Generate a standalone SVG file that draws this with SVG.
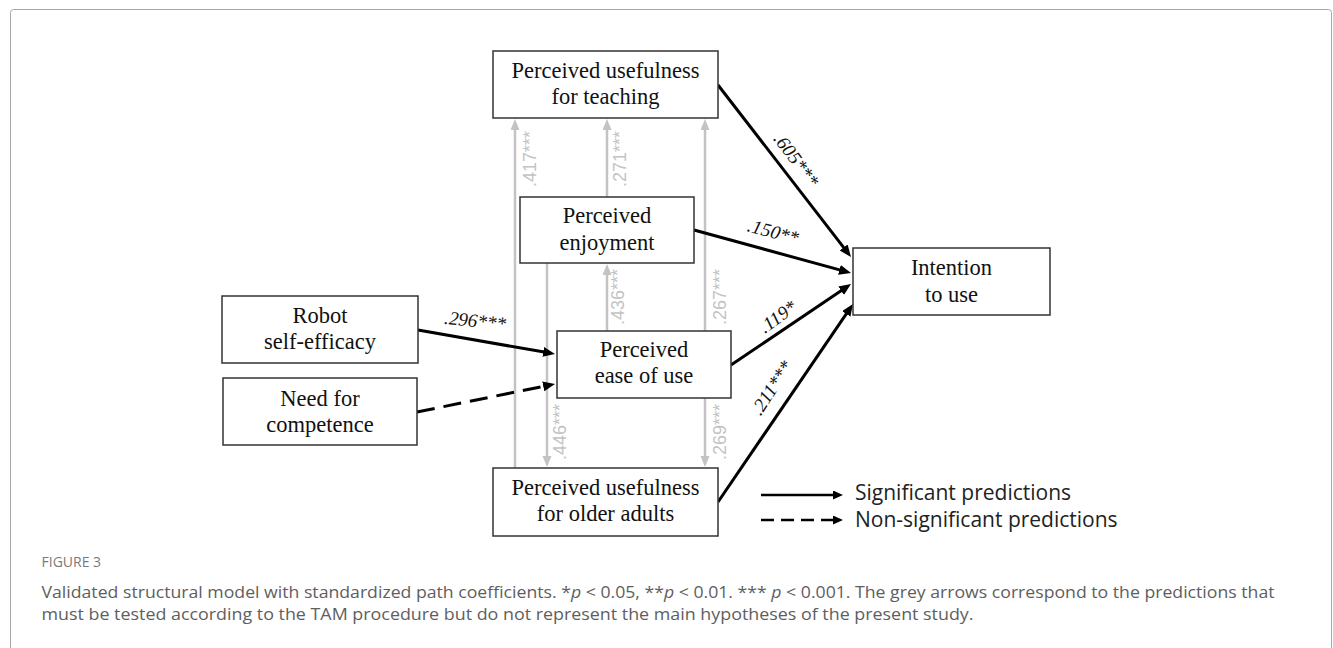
<svg xmlns="http://www.w3.org/2000/svg" width="1333" height="648" viewBox="0 0 1333 648">
<style>
.box{fill:#fff;stroke:#333;stroke-width:1.5}
.nt{font-family:"Liberation Serif","Times New Roman",serif;font-size:22.5px;fill:#111;text-anchor:middle}
.blk{stroke:#000;stroke-width:3;fill:none}
.gry{stroke:#c3c3c3;stroke-width:2.5;fill:none}
.bl{font-family:"Liberation Serif","Times New Roman",serif;font-style:italic;font-size:19px;fill:#111;text-anchor:middle}
.gl{font-family:"Liberation Sans",Arial,sans-serif;font-size:18px;fill:#c3c3c3;text-anchor:middle}
.leg{font-family:"Open Sans","Noto Sans",sans-serif;font-size:21px;fill:#222}
.cap{font-family:"Open Sans","Noto Sans",sans-serif;font-size:17px;fill:#5e5e5e}
</style>
<defs>
<marker id="ab" markerUnits="userSpaceOnUse" markerWidth="13" markerHeight="11" refX="4" refY="5" orient="auto"><path d="M0,0 L12,5 L0,10 z" fill="#000"/></marker>
<marker id="ag" markerUnits="userSpaceOnUse" markerWidth="12" markerHeight="10" refX="4" refY="4.5" orient="auto"><path d="M0,0 L11,4.5 L0,9 z" fill="#c3c3c3"/></marker>
<marker id="al" markerUnits="userSpaceOnUse" markerWidth="12" markerHeight="10" refX="3" refY="4.5" orient="auto"><path d="M0,0 L10,4.5 L0,9 z" fill="#000"/></marker>
</defs>
<rect x="10.5" y="9.5" width="1321" height="700" rx="3" fill="#fff" stroke="#a8a8a8" stroke-width="1"/>
<g id="connectors">
<line class="gry" x1="515" y1="468" x2="515" y2="126" marker-end="url(#ag)"/>
<line class="gry" x1="607" y1="197" x2="607" y2="126" marker-end="url(#ag)"/>
<line class="gry" x1="705" y1="331" x2="705" y2="126" marker-end="url(#ag)"/>
<line class="gry" x1="547" y1="263" x2="547" y2="460" marker-end="url(#ag)"/>
<line class="gry" x1="607" y1="331" x2="607" y2="271" marker-end="url(#ag)"/>
<line class="gry" x1="705" y1="398" x2="705" y2="460" marker-end="url(#ag)"/>
<line class="blk" x1="718" y1="85" x2="846.1" y2="250.7" marker-end="url(#ab)"/>
<line class="blk" x1="694" y1="230" x2="843.3" y2="270.9" marker-end="url(#ab)"/>
<line class="blk" x1="731" y1="365" x2="844.4" y2="288.5" marker-end="url(#ab)"/>
<line class="blk" x1="718" y1="502" x2="848.5" y2="310.6" marker-end="url(#ab)"/>
<line class="blk" x1="418" y1="330" x2="547.1" y2="352.6" marker-end="url(#ab)"/>
<line class="blk" x1="417" y1="412" x2="547.2" y2="385.6" stroke-dasharray="18 9" marker-end="url(#ab)"/>
<text class="gl" transform="translate(530,159) rotate(-90)" y="6">.417***</text>
<text class="gl" transform="translate(620,159) rotate(-90)" y="6">.271***</text>
<text class="gl" transform="translate(720,297) rotate(-90)" y="6">.267***</text>
<text class="gl" transform="translate(618,297) rotate(-90)" y="6">.436***</text>
<text class="gl" transform="translate(560,432) rotate(-90)" y="6">.446***</text>
<text class="gl" transform="translate(720,432) rotate(-90)" y="6">.269***</text>
<text class="bl" transform="translate(796,160) rotate(53)" y="6">.605***</text>
<text class="bl" transform="translate(773,232) rotate(15)" y="6">.150**</text>
<text class="bl" transform="translate(778,317) rotate(-36)" y="6">.119*</text>
<text class="bl" transform="translate(772,388) rotate(-57)" y="6">.211***</text>
<text class="bl" transform="translate(475,321) rotate(6)" y="6">.296***</text>
</g>
<g id="n-put">
<rect class="box" x="493" y="51" width="225" height="67"/>
<text class="nt" x="605.5" y="78">Perceived usefulness</text>
<text class="nt" x="605.5" y="104">for teaching</text>
</g>
<g id="n-enj">
<rect class="box" x="520" y="197" width="174" height="66"/>
<text class="nt" x="607" y="223">Perceived</text>
<text class="nt" x="607" y="250">enjoyment</text>
</g>
<g id="n-ease">
<rect class="box" x="557" y="331" width="174" height="67"/>
<text class="nt" x="644" y="357">Perceived</text>
<text class="nt" x="644" y="383">ease of use</text>
</g>
<g id="n-puo">
<rect class="box" x="493" y="468" width="225" height="68"/>
<text class="nt" x="605.5" y="495">Perceived usefulness</text>
<text class="nt" x="605.5" y="521">for older adults</text>
</g>
<g id="n-robot">
<rect class="box" x="222" y="296" width="196" height="67"/>
<text class="nt" x="320" y="323">Robot</text>
<text class="nt" x="320" y="349">self-efficacy</text>
</g>
<g id="n-need">
<rect class="box" x="223" y="378" width="194" height="67"/>
<text class="nt" x="320" y="406">Need for</text>
<text class="nt" x="320" y="432">competence</text>
</g>
<g id="n-int">
<rect class="box" x="853" y="248" width="197" height="67"/>
<text class="nt" x="951.5" y="275">Intention</text>
<text class="nt" x="951.5" y="302">to use</text>
</g>
<g id="legend">
<line x1="761" y1="495" x2="836" y2="495" stroke="#000" stroke-width="2.5" marker-end="url(#al)"/>
<line x1="761" y1="520" x2="836" y2="520" stroke="#000" stroke-width="2.5" stroke-dasharray="13 7" marker-end="url(#al)"/>
<text class="leg" x="855" y="500">Significant predictions</text>
<text class="leg" x="855" y="527">Non-significant predictions</text>
</g>
<g id="caption">
<text x="41.5" y="567" style="font-family:'Open Sans','Noto Sans',sans-serif;font-size:14px;fill:#7a7a7a">FIGURE 3</text>
<text class="cap" x="41.5" y="598" textLength="1233" lengthAdjust="spacingAndGlyphs">Validated structural model with standardized path coefficients. *<tspan font-style="italic">p</tspan> &lt; 0.05, **<tspan font-style="italic">p</tspan> &lt; 0.01. *** <tspan font-style="italic">p</tspan> &lt; 0.001. The grey arrows correspond to the predictions that</text>
<text class="cap" x="41.5" y="620" textLength="932" lengthAdjust="spacingAndGlyphs">must be tested according to the TAM procedure but do not represent the main hypotheses of the present study.</text>
</g>
</svg>
